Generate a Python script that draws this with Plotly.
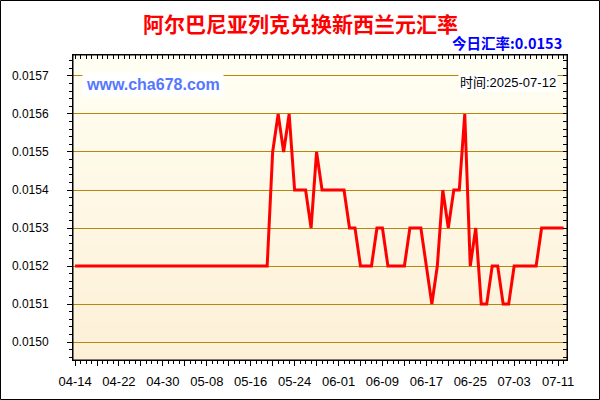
import plotly.graph_objects as go
import pandas as pd

# 阿尔巴尼亚列克 -> 新西兰元, 日线 2025-04-14 ~ 2025-07-12
start_date = "2025-04-14"
rates = [
    0.0152, 0.0152, 0.0152, 0.0152, 0.0152, 0.0152, 0.0152, 0.0152, 0.0152, 0.0152,
    0.0152, 0.0152, 0.0152, 0.0152, 0.0152, 0.0152, 0.0152, 0.0152, 0.0152, 0.0152,
    0.0152, 0.0152, 0.0152, 0.0152, 0.0152, 0.0152, 0.0152, 0.0152, 0.0152, 0.0152,
    0.0152, 0.0152, 0.0152, 0.0152, 0.0152, 0.0152, 0.0155, 0.0156, 0.0155, 0.0156,
    0.0154, 0.0154, 0.0154, 0.0153, 0.0155, 0.0154, 0.0154, 0.0154, 0.0154, 0.0154,
    0.0153, 0.0153, 0.0152, 0.0152, 0.0152, 0.0153, 0.0153, 0.0152, 0.0152, 0.0152,
    0.0152, 0.0153, 0.0153, 0.0153, 0.0152, 0.0151, 0.0152, 0.0154, 0.0153, 0.0154,
    0.0154, 0.0156, 0.0152, 0.0153, 0.0151, 0.0151, 0.0152, 0.0152, 0.0151, 0.0151,
    0.0152, 0.0152, 0.0152, 0.0152, 0.0152, 0.0153, 0.0153, 0.0153, 0.0153, 0.0153,
]
dates = pd.date_range(start_date, periods=len(rates), freq="D")

title_text = "阿尔巴尼亚列克兑换新西兰元汇率"
today_text = "今日汇率:0.0153"
site_text = "www.cha678.com"
time_text = "时间:2025-07-12"

# 画布与边距 (像素)
W, H = 600, 400
L, R, T, B = 73, 33, 55, 40
PW, PH = W - L - R, H - T - B

def px(x):
    return (x - L) / PW

def py(y):
    return (H - B - y) / PH

DAY = 86400000
x_range = ["2025-04-13 15:00", "2025-07-12 15:00"]
y_range = [0.014953, 0.015755]

# 每4天一个刻度, 每8天一个标签
tick_dates = pd.date_range(start_date, "2025-07-12", freq="4D")
tick_text = [d.strftime("%m-%d") if i % 2 == 0 else "" for i, d in enumerate(tick_dates)]

fig = go.Figure()
fig.add_trace(go.Scatter(
    x=dates, y=rates, mode="lines",
    line=dict(color="#ff0000", width=3),
    showlegend=False, hoverinfo="x+y",
))
# 上/右刻度轴需要挂一条透明曲线才会画出来
fig.add_trace(go.Scatter(
    x=dates, y=rates, xaxis="x2", yaxis="y2", mode="lines",
    line=dict(color="rgba(0,0,0,0)", width=0),
    showlegend=False, hoverinfo="skip",
))

# 背景渐变 (从上到下 浅黄 -> 浅橙)
top_rgb, bot_rgb = (255, 255, 243), (253, 240, 214)
n_bands = 40
for i in range(n_bands):
    t = (i + 0.5) / n_bands
    c = tuple(round(bot_rgb[k] + (top_rgb[k] - bot_rgb[k]) * t) for k in range(3))
    fig.add_shape(
        type="rect", xref="x domain", yref="y domain",
        x0=0, x1=1, y0=i / n_bands, y1=min((i + 1) / n_bands + 0.002, 1),
        fillcolor="rgb(%d,%d,%d)" % c, line_width=0, layer="below",
    )

# 绘图区边框
fig.add_shape(
    type="rect", xref="paper", yref="paper",
    x0=0, x1=1, y0=0, y1=1,
    line=dict(color="black", width=1), fillcolor="rgba(0,0,0,0)",
)
# 外边框
fig.add_shape(
    type="rect", xref="paper", yref="paper",
    x0=px(0.5), x1=px(W - 0.5), y0=py(H - 0.5), y1=py(0.5),
    line=dict(color="black", width=1), fillcolor="rgba(0,0,0,0)",
)

tick_font = dict(family="Liberation Sans, Arial", size=13, color="black")

fig.update_layout(
    width=W, height=H,
    margin=dict(l=L, r=R, t=T, b=B),
    paper_bgcolor="white",
    plot_bgcolor="rgba(0,0,0,0)",
    showlegend=False,
    xaxis=dict(
        type="date", range=x_range,
        tickmode="array", tickvals=tick_dates, ticktext=tick_text,
        ticks="outside", ticklen=5, tickcolor="black", tickwidth=1,
        minor=dict(tickmode="linear", tick0=start_date, dtick=DAY,
                   ticks="outside", ticklen=3, tickcolor="black", showgrid=False),
        showgrid=False, zeroline=False,
        showline=True, linecolor="black", linewidth=1,
        tickfont=tick_font, ticklabelstandoff=4,
    ),
    yaxis=dict(
        range=y_range, tick0=0.0150, dtick=0.0001, tickformat=".4f",
        ticks="outside", ticklen=5, tickcolor="black", tickwidth=1,
        minor=dict(dtick=0.00002, ticks="outside", ticklen=3,
                   tickcolor="black", showgrid=False),
        showgrid=True, gridcolor="#b8860b", gridwidth=1,
        zeroline=False, showline=True, linecolor="black", linewidth=1,
        tickfont=dict(family="Liberation Sans, Arial", size=12, color="black"),
        ticklabelstandoff=16,
    ),
    xaxis2=dict(
        type="date", range=x_range, overlaying="x", side="top", anchor="y",
        tickmode="linear", tick0=start_date, dtick=DAY,
        ticks="inside", ticklen=4, tickcolor="black",
        showticklabels=False, showgrid=False, zeroline=False,
        showline=True, linecolor="black",
    ),
    yaxis2=dict(
        range=y_range, overlaying="y", side="right", anchor="x",
        tick0=0.0150, dtick=0.00002,
        ticks="inside", ticklen=4, tickcolor="black",
        showticklabels=False, showgrid=False, zeroline=False,
        showline=True, linecolor="black",
    ),
)

fig.add_annotation(
    text="<b>%s</b>" % title_text, xref="paper", yref="paper",
    x=px(300), y=py(23), xanchor="center", yanchor="middle",
    showarrow=False,
    font=dict(family="Noto Sans CJK SC", size=21, color="#ff0000"),
)
fig.add_annotation(
    text="<b>%s</b>" % today_text, xref="paper", yref="paper",
    x=px(564), y=py(42.5), xanchor="right", yanchor="middle",
    showarrow=False,
    font=dict(family="Noto Sans CJK SC", size=14.5, color="#0000ff"),
)
fig.add_annotation(
    text="<b>%s</b>" % site_text, xref="paper", yref="paper",
    x=px(81.5), y=py(84), xanchor="left", yanchor="middle",
    showarrow=False, bgcolor="white", borderpad=3,
    font=dict(family="Liberation Sans, Arial", size=16, color="#5577ff"),
)
fig.add_annotation(
    text=time_text, xref="paper", yref="paper",
    x=px(558), y=py(82), xanchor="right", yanchor="middle",
    showarrow=False, bgcolor="white", borderpad=1,
    font=dict(family="Liberation Sans, Noto Sans CJK SC", size=13, color="black"),
)

fig.write_html("out.html", config={"displayModeBar": False},
               post_script="document.body.style.margin = '0';")
